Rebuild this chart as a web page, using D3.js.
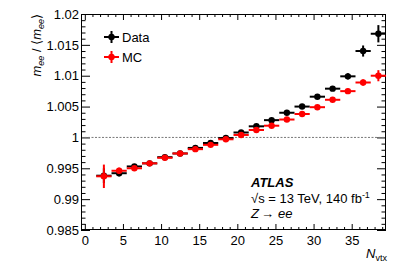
<!DOCTYPE html>
<html><head><meta charset="utf-8">
<script src="https://cdn.jsdelivr.net/npm/d3@7"></script>
<style>body{margin:0;background:#fff}svg{display:block}</style>
</head><body><svg id="c" width="407" height="277"></svg>
<script>
const nvtx = [2.5,4.5,6.5,8.5,10.5,12.5,14.5,16.5,18.5,20.5,22.5,24.5,26.5,28.5,30.5,32.5,34.5,36.5,38.5];
const binHalfWidth = 1;
const dataVals = [0.9938,0.9942,0.9953,0.9958,0.9968,0.9974,0.9983,0.9991,0.9999,1.0008,1.0018,1.0028,1.0040,1.0050,1.0066,1.0079,1.0099,1.0140,1.0168];
const dataErr  = [0.0012,0.0005,0.0003,0.0002,0.0002,0.0002,0.0002,0.0002,0.0002,0.0002,0.0002,0.0002,0.0002,0.0002,0.0003,0.0003,0.0005,0.0009,0.0014];
const mcVals   = [0.9937,0.9946,0.9950,0.9958,0.9967,0.9974,0.9981,0.9988,0.9997,1.0004,1.0012,1.0019,1.0029,1.0038,1.0049,1.0061,1.0075,1.0089,1.0100];
const mcErr    = [0.0019,0.0005,0.0003,0.0002,0.0002,0.0002,0.0002,0.0002,0.0002,0.0002,0.0002,0.0002,0.0002,0.0003,0.0003,0.0003,0.0004,0.0005,0.0009];
const xMajor = [0,5,10,15,20,25,30,35];
const yMajor = [0.985,0.99,0.995,1,1.005,1.01,1.015,1.02];
const seriesNames = ["Data","MC"];
const seriesColors = ["#000000","#ff0000"];

const svg = d3.select("#c");
const FONT = "'Liberation Sans', Arial, Helvetica, sans-serif";
const L=81, R=386, T=14, B=230;
const x = d3.scaleLinear().domain([-0.5,39.5]).range([L,R]);
const y = d3.scaleLinear().domain([0.985,1.02]).range([B,T]);
const xMinor = d3.range(0,40,1).filter(v=>!xMajor.includes(v));
const yMinor = d3.range(0,36).map(i=>+(0.985+i*0.001).toFixed(3)).filter(v=>!yMajor.some(m=>Math.abs(m-v)<1e-9));

function style(g){
  g.select(".domain").remove();
  g.selectAll("line").attr("stroke","#000").attr("stroke-width",1);
  g.selectAll("text").attr("font-family",FONT).attr("font-size",13).attr("fill","#000");
}
const fmt = d=>String(+d.toFixed(3));
// bottom
svg.append("g").attr("transform",`translate(0,${B})`).call(d3.axisBottom(x).tickValues(xMajor).tickSize(-6).tickPadding(6).tickFormat(d=>d)).call(style);
svg.append("g").attr("transform",`translate(0,${B})`).call(d3.axisBottom(x).tickValues(xMinor).tickSize(-3).tickFormat("")).call(style);
// top
svg.append("g").attr("transform",`translate(0,${T})`).call(d3.axisTop(x).tickValues(xMajor).tickSize(-6).tickFormat("")).call(style);
svg.append("g").attr("transform",`translate(0,${T})`).call(d3.axisTop(x).tickValues(xMinor).tickSize(-3).tickFormat("")).call(style);
// left
svg.append("g").attr("transform",`translate(${L},0)`).call(d3.axisLeft(y).tickValues(yMajor).tickSize(-9).tickPadding(2).tickFormat(fmt)).call(style);
svg.append("g").attr("transform",`translate(${L},0)`).call(d3.axisLeft(y).tickValues(yMinor).tickSize(-4.5).tickFormat("")).call(style);
// right
svg.append("g").attr("transform",`translate(${R},0)`).call(d3.axisRight(y).tickValues(yMajor).tickSize(-9).tickFormat("")).call(style);
svg.append("g").attr("transform",`translate(${R},0)`).call(d3.axisRight(y).tickValues(yMinor).tickSize(-4.5).tickFormat("")).call(style);

// dashed reference line
svg.append("line").attr("x1",L).attr("x2",R).attr("y1",y(1)).attr("y2",y(1))
  .attr("stroke","#777").attr("stroke-width",1).attr("stroke-dasharray","2,1.5");

// frame
svg.append("rect").attr("x",L+0.5).attr("y",T+0.5).attr("width",R-L-1).attr("height",B-T-1)
  .attr("fill","none").attr("stroke","#000").attr("stroke-width",1);

function drawSeries(vals, errs, color){
  const g = svg.append("g");
  nvtx.forEach((n,i)=>{
    g.append("line").attr("x1",x(n-binHalfWidth)).attr("x2",x(n+binHalfWidth)).attr("y1",y(vals[i])).attr("y2",y(vals[i]))
      .attr("stroke",color).attr("stroke-width",2);
    g.append("line").attr("x1",x(n)).attr("x2",x(n)).attr("y1",y(vals[i]-errs[i])).attr("y2",y(vals[i]+errs[i]))
      .attr("stroke",color).attr("stroke-width",2);
    g.append("circle").attr("cx",x(n)).attr("cy",y(vals[i])).attr("r",3.2).attr("fill",color);
  });
}
drawSeries(dataVals,dataErr,seriesColors[0]);
drawSeries(mcVals,mcErr,seriesColors[1]);

// legend
seriesNames.forEach((name,i)=>{
  const cy = 37 + i*20, cx = 111.5;
  const g = svg.append("g");
  g.append("line").attr("x1",cx-7.5).attr("x2",cx+7.5).attr("y1",cy).attr("y2",cy).attr("stroke",seriesColors[i]).attr("stroke-width",2);
  g.append("line").attr("x1",cx).attr("x2",cx).attr("y1",cy-6).attr("y2",cy+6).attr("stroke",seriesColors[i]).attr("stroke-width",2);
  g.append("circle").attr("cx",cx).attr("cy",cy).attr("r",3.2).attr("fill",seriesColors[i]);
  g.append("text").attr("x",122).attr("y",cy).attr("dy","0.36em").attr("font-family",FONT).attr("font-size",13).text(name);
});

// ATLAS label
const lab = svg.append("g").attr("font-family",FONT).attr("font-size",13);
lab.append("text").attr("x",251).attr("y",187).attr("font-weight","bold").attr("font-style","italic").text("ATLAS");
const t2 = lab.append("text").attr("x",251).attr("y",203);
t2.append("tspan").text("\u221As = 13 TeV, 140 fb");
t2.append("tspan").attr("font-size",9).attr("dy",-5).text("-1");
const t3 = lab.append("text").attr("x",251).attr("y",218);
t3.append("tspan").attr("font-style","italic").text("Z");
t3.append("tspan").attr("dx",2).text("\u2192");
t3.append("tspan").attr("dx",4).attr("font-style","italic").text("ee");

// x title
const xt = svg.append("text").attr("x",387).attr("y",258).attr("text-anchor","end").attr("font-family",FONT).attr("font-size",13);
xt.append("tspan").attr("font-style","italic").text("N");
xt.append("tspan").attr("font-size",9).attr("dy",3).text("vtx");

// y title
const yt = svg.append("text").attr("transform","translate(41,14) rotate(-90)").attr("text-anchor","end").attr("font-family",FONT).attr("font-size",13);
yt.append("tspan").attr("font-style","italic").text("m");
yt.append("tspan").attr("font-style","italic").attr("font-size",9).attr("dy",3).text("ee");
yt.append("tspan").attr("dy",-3).text(" / \u27E8");
yt.append("tspan").attr("font-style","italic").text("m");
yt.append("tspan").attr("font-style","italic").attr("font-size",9).attr("dy",3).text("ee");
yt.append("tspan").attr("dy",-3).text("\u27E9");
</script></body></html>
